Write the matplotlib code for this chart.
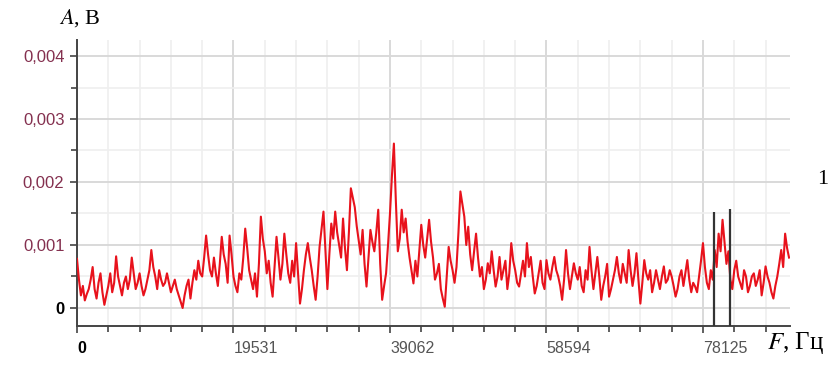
import numpy as np
import matplotlib
matplotlib.use('Agg')
import matplotlib.pyplot as plt
from matplotlib.ticker import MultipleLocator, FixedLocator, FixedFormatter

# spectrum amplitude, mV, one value per FFT bin
bin_width = 244.140625  # Hz
amp_mv = [
    0.78, 0.45, 0.20, 0.35, 0.12, 0.22, 0.30, 0.45, 0.65, 0.30,
    0.15, 0.40, 0.55, 0.25, 0.05, 0.20, 0.35, 0.55, 0.25, 0.40,
    0.82, 0.50, 0.35, 0.20, 0.40, 0.50, 0.30, 0.45, 0.80, 0.55,
    0.30, 0.40, 0.55, 0.35, 0.20, 0.30, 0.45, 0.60, 0.92, 0.65,
    0.50, 0.30, 0.60, 0.45, 0.35, 0.40, 0.55, 0.40, 0.25, 0.35,
    0.45, 0.30, 0.20, 0.10, 0.00, 0.20, 0.35, 0.45, 0.15, 0.40,
    0.60, 0.45, 0.75, 0.55, 0.50, 0.80, 1.15, 0.85, 0.60, 0.50,
    0.80, 0.55, 0.35, 0.70, 1.13, 0.85, 0.70, 0.40, 1.15, 0.85,
    0.50, 0.35, 0.25, 0.55, 0.45, 0.80, 1.26, 0.95, 0.60, 0.45,
    0.30, 0.55, 0.18, 0.70, 1.45, 1.10, 0.90, 0.55, 0.75, 0.40,
    0.18, 0.65, 1.13, 0.80, 0.45, 0.70, 1.18, 0.85, 0.55, 0.40,
    0.75, 0.50, 1.03, 0.55, 0.07, 0.30, 0.60, 0.85, 1.03, 0.80,
    0.60, 0.35, 0.13, 0.50, 0.97, 1.25, 1.53, 0.90, 0.30, 0.85,
    1.34, 1.10, 1.53, 1.20, 1.00, 0.80, 1.42, 0.95, 0.60, 1.20,
    1.90, 1.75, 1.60, 1.30, 1.08, 0.85, 1.24, 0.70, 0.34, 0.80,
    1.24, 1.05, 0.90, 1.20, 1.56, 0.70, 0.13, 0.35, 0.55, 1.00,
    1.50, 2.10, 2.61, 1.70, 0.90, 1.10, 1.56, 1.20, 1.42, 1.05,
    0.80, 0.60, 0.39, 0.75, 0.50, 0.90, 1.32, 1.00, 0.80, 1.10,
    1.40, 1.05, 0.80, 0.45, 0.55, 0.70, 0.30, 0.15, 0.02, 0.50,
    0.97, 0.75, 0.60, 0.40, 0.65, 1.20, 1.85, 1.65, 1.45, 1.00,
    1.29, 0.85, 0.60, 0.90, 1.18, 0.80, 0.50, 0.65, 0.30, 0.45,
    0.71, 0.55, 0.90, 0.60, 0.34, 0.50, 0.81, 0.45, 0.60, 0.75,
    0.30, 0.55, 1.03, 0.75, 0.60, 0.40, 0.34, 0.55, 0.75, 0.50,
    1.03, 0.65, 0.81, 0.50, 0.23, 0.35, 0.55, 0.75, 0.40, 0.30,
    0.76, 0.55, 0.45, 0.65, 0.81, 0.60, 0.50, 0.35, 0.13, 0.45,
    0.92, 0.55, 0.30, 0.50, 0.71, 0.55, 0.45, 0.65, 0.35, 0.25,
    0.60, 0.45, 0.97, 0.60, 0.30, 0.55, 0.81, 0.50, 0.13, 0.35,
    0.50, 0.70, 0.18, 0.30, 0.45, 0.60, 0.81, 0.55, 0.40, 0.70,
    0.55, 0.40, 0.92, 0.60, 0.35, 0.55, 0.87, 0.45, 0.07, 0.40,
    0.76, 0.55, 0.45, 0.60, 0.25, 0.40, 0.60, 0.45, 0.30, 0.50,
    0.66, 0.40, 0.45, 0.60, 0.50, 0.35, 0.18, 0.30, 0.50, 0.60,
    0.35, 0.55, 0.76, 0.45, 0.25, 0.40, 0.34, 0.25, 0.50, 0.75,
    1.03, 0.65, 0.40, 0.30, 0.60, 0.45, 0.92, 0.65, 1.18, 0.90,
    1.40, 1.05, 0.70, 0.90, 0.45, 0.30, 0.60, 0.75, 0.50, 0.40,
    0.30, 0.60, 0.50, 0.25, 0.35, 0.50, 0.55, 0.35, 0.45, 0.60,
    0.20, 0.40, 0.66, 0.50, 0.40, 0.25, 0.15, 0.35, 0.50, 0.70,
    0.92, 0.65, 1.18, 0.95, 0.80,
]

# two marker lines near 78125 Hz
marker_freqs = [79500, 81500]
marker_amps = [0.00153, 0.00157]

xtick_vals = [0, 19531.25, 39062.5, 58593.75, 78125]
xtick_labels = ['0', '19531', '39062', '58594', '78125']
ytick_vals = [0, 0.001, 0.002, 0.003, 0.004]
ytick_labels = ['0', '0,001', '0,002', '0,003', '0,004']

freqs = np.arange(len(amp_mv)) * bin_width
amps = np.array(amp_mv) * 1e-3

plt.rcParams['font.family'] = ['Liberation Sans', 'DejaVu Sans']
plt.rcParams['mathtext.fontset'] = 'stix'

fig = plt.figure(figsize=(8.36, 3.67), dpi=100)
ax = fig.add_axes([0.0921, 0.1117, 0.853, 0.7793])

y_lo, y_hi = -0.000286, 0.004254
ax.set_xlim(0, 89000)
ax.set_ylim(y_lo, y_hi)

ax.plot(freqs, amps, color='#e8121c', linewidth=1.5, zorder=3)
ax.vlines(marker_freqs, y_lo, marker_amps, color='#333333', linewidth=1.6, zorder=4)

# grid and ticks
ax.xaxis.set_major_locator(FixedLocator(xtick_vals))
ax.xaxis.set_major_formatter(FixedFormatter(xtick_labels))
ax.xaxis.set_minor_locator(MultipleLocator(3906.25))
ax.yaxis.set_major_locator(FixedLocator(ytick_vals))
ax.yaxis.set_major_formatter(FixedFormatter(ytick_labels))
ax.yaxis.set_minor_locator(MultipleLocator(0.0005))

ax.grid(True, which='major', color='#d9d9d9', linewidth=1.4, zorder=0)
ax.grid(True, which='minor', color='#efefef', linewidth=1.2, zorder=0)

for side in ['top', 'right']:
    ax.spines[side].set_visible(False)
for side in ['left', 'bottom']:
    ax.spines[side].set_color('#444444')
    ax.spines[side].set_linewidth(1.4)

ax.tick_params(axis='both', which='both', direction='out', color='#444444', width=1.2)
ax.tick_params(axis='both', which='major', length=5)
ax.tick_params(axis='both', which='minor', length=4)
ax.tick_params(axis='y', labelsize=12, pad=4)
ax.tick_params(axis='x', labelsize=11.5, pad=6)

for lbl in ax.get_yticklabels():
    lbl.set_color('#84304f')
ax.get_yticklabels()[0].set_color('black')
ax.get_yticklabels()[0].set_fontweight('bold')

for lbl in ax.get_xticklabels():
    lbl.set_horizontalalignment('left')
    lbl.set_color('#555555')
ax.get_xticklabels()[0].set_color('black')
ax.get_xticklabels()[0].set_fontweight('bold')

serif = ['Liberation Serif', 'DejaVu Serif']
fig.text(0.071, 0.92, '$A$, В', fontsize=16, family=serif, ha='left', va='bottom')
fig.text(0.918, 0.03, '$F$, Гц', fontsize=18, family=serif, ha='left', va='bottom')
fig.text(0.978, 0.51, '1', fontsize=16, family=serif, ha='left', va='center')

fig.savefig('out.png', dpi=100)
